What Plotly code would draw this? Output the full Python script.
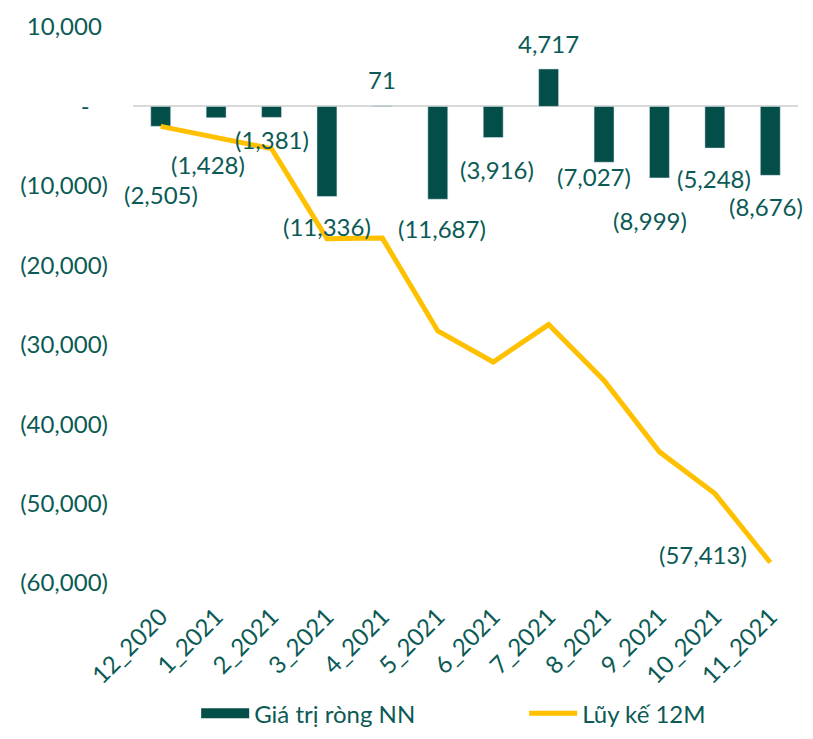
import plotly.graph_objects as go

months = ["12_2020", "1_2021", "2_2021", "3_2021", "4_2021", "5_2021",
          "6_2021", "7_2021", "8_2021", "9_2021", "10_2021", "11_2021"]
net_value = [-2505, -1428, -1381, -11336, 71, -11687, -3916, 4717, -7027, -8999, -5248, -8676]
cumulative = [-2505, -3933, -5314, -16650, -16579, -28266, -32182, -27465, -34492, -43491, -48739, -57413]

ytick_vals = [10000, 0, -10000, -20000, -30000, -40000, -50000, -60000]
ytick_text = ["10,000\u00a0", "-\u00a0\u00a0\u00a0", "(10,000)", "(20,000)", "(30,000)",
              "(40,000)", "(50,000)", "(60,000)"]

# label offsets (px) for bar value labels: (xshift, yshift)
label_offsets = [(0, -68), (-8, -47), (0, -22), (0, -30), (0, 26), (4, -29),
                 (4, -32), (0, 25), (-10, -14), (-9, -43), (-1, -30), (-4, -31)]

BAR = "#044E4A"
TXT = "#0B5A55"
GOLD = "#FFC000"
FONT = "Lato"
FS = 24


def fmt(v):
    s = f"{abs(v):,}"
    return f"({s})" if v < 0 else s


fig = go.Figure()
fig.add_trace(go.Bar(x=months, y=net_value, marker_color=BAR, width=0.36,
                     showlegend=False, name="Giá trị ròng NN"))
# legend entry drawn as a thick swatch
fig.add_trace(go.Scatter(x=[None], y=[None], mode="lines", name="Giá trị ròng NN",
                         line=dict(color=BAR, width=15)))
fig.add_trace(go.Scatter(x=months, y=cumulative, mode="lines", name="Lũy kế 12M",
                         line=dict(color=GOLD, width=5)))

for m, v, (dx, dy) in zip(months, net_value, label_offsets):
    fig.add_annotation(x=m, y=v, text=fmt(v), showarrow=False, xshift=dx, yshift=dy,
                       font=dict(family=FONT, size=FS, color=TXT))
fig.add_annotation(x=months[-1], y=cumulative[-1], text=fmt(cumulative[-1]), showarrow=False,
                   xshift=-67, yshift=8, font=dict(family=FONT, size=FS, color=TXT))

fig.update_layout(
    width=805, height=723,
    margin=dict(l=125, r=15, t=19, b=148, autoexpand=False),
    paper_bgcolor="white", plot_bgcolor="white",
    font=dict(family=FONT, size=FS, color=TXT),
    bargap=0.64,
    showlegend=True,
    legend=dict(orientation="h", x=0.095, xanchor="left", y=-0.235, yanchor="middle",
                font=dict(family=FONT, size=FS, color=TXT), entrywidth=265, itemwidth=48,
                entrywidthmode="pixels", tracegroupgap=0),
    xaxis=dict(range=[-0.5, len(months) - 0.5], tickangle=-45, showgrid=False,
               showline=False, ticks="", automargin=False,
               ticklabelstandoff=14, tickfont=dict(family=FONT, size=FS, color=TXT)),
    yaxis=dict(range=[-60000, 10000], tickvals=ytick_vals, ticktext=ytick_text,
               showgrid=False, zeroline=True, zerolinecolor="#D9D9D9", zerolinewidth=2,
               showline=False, ticks="", ticklabelstandoff=24, automargin=False,
               tickfont=dict(family=FONT, size=FS, color=TXT)),
)

fig.write_html("out.html")
